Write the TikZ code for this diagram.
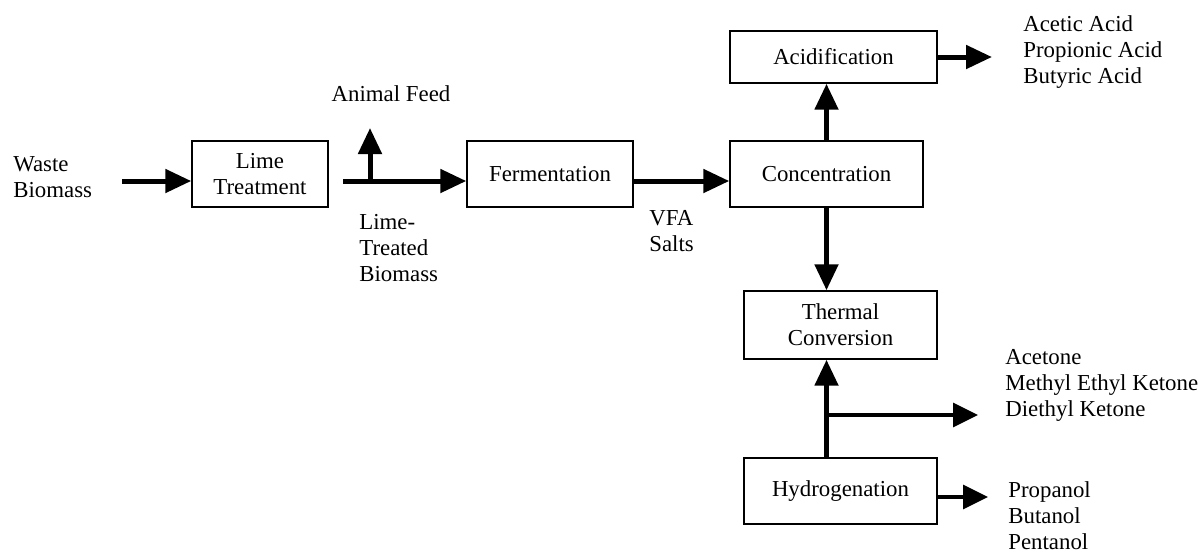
\documentclass[tikz,border=0pt]{standalone}
\usepackage{fontspec}
\setmainfont{Liberation Serif}
\usetikzlibrary{arrows.meta}

\begin{document}
\begin{tikzpicture}[x=0.02cm, y=-0.02cm, every node/.style={font=\fontsize{13}{14.8}\selectfont}]
	\tikzstyle{process} = [rectangle, draw, line width=0.85pt, text centered, align=center, inner sep=0pt]
	\tikzstyle{stream} = [align=left, inner sep=0pt, anchor=west]
	\tikzstyle{connector} = [draw, line width=0.1cm, -{Triangle[length=0.52cm,width=0.46cm]}]
	\tikzstyle{thinconnector} = [draw, line width=0.065cm, -{Triangle[length=0.5cm,width=0.48cm]}]
\useasboundingbox (0,0) rectangle (1200,556);
\node [process, minimum width=2.72cm, minimum height=1.32cm] at (260,174) (lime) {Lime\\Treatment};
\node [process, minimum width=3.32cm, minimum height=1.32cm] at (550,174) (ferm) {Fermentation};
\node [process, minimum width=3.86cm, minimum height=1.32cm] at (826.5,174) (conc) {Concentration};
\node [process, minimum width=4.14cm, minimum height=1.04cm] at (833.5,57) (acid) {Acidification};
\node [process, minimum width=3.86cm, minimum height=1.36cm] at (840.5,325) (therm) {Thermal\\Conversion};
\node [process, minimum width=3.86cm, minimum height=1.32cm] at (840.5,491) (hydro) {Hydrogenation};
\node [stream] at (13,177) (waste) {Waste\\Biomass};
\node [stream, anchor=center] at (391,94) (feed) {Animal Feed};
\node [stream] at (359,248) (ltb) {Lime-\\Treated\\Biomass};
\node [stream] at (649,231) (vfa) {VFA\\Salts};
\node [stream] at (1023,52) (acids) {Acetic Acid\\Propionic Acid\\Butyric Acid};
\node [stream] at (1005,385) (ketones) {Acetone\\Methyl Ethyl Ketone\\Diethyl Ketone};
\node [stream] at (1008,516) (alcohols) {Propanol\\Butanol\\Pentanol};
\coordinate (row) at (0,181);
\coordinate (wastetail) at (122,181);
\coordinate (ltbtail) at (343,181);
\coordinate (split) at (370,181);
\coordinate (feedtip) at (370,128);
\coordinate (acidtip) at (992,57);
\coordinate (ketsplit) at (827,415);
\coordinate (kettip) at (978,415);
\coordinate (alctip) at (988,497);
\path [connector] (wastetail) -- (lime.west |- row);
\path [connector] (ltbtail) -- (ferm.west |- row);
\path [connector] (split) -- (feedtip);
\path [connector] (ferm.east |- row) -- (conc.west |- row);
\path [connector] (conc.north) -- (acid.south -| conc.north);
\path [connector] (acid.east) -- (acidtip);
\path [connector] (conc.south) -- (therm.north -| conc.south);
\path [connector] (hydro.north -| conc.south) -- (therm.south -| conc.south);
\path [thinconnector] (ketsplit) -- (kettip);
\path [thinconnector] (hydro.east |- alctip) -- (alctip);
\end{tikzpicture}
\end{document}
